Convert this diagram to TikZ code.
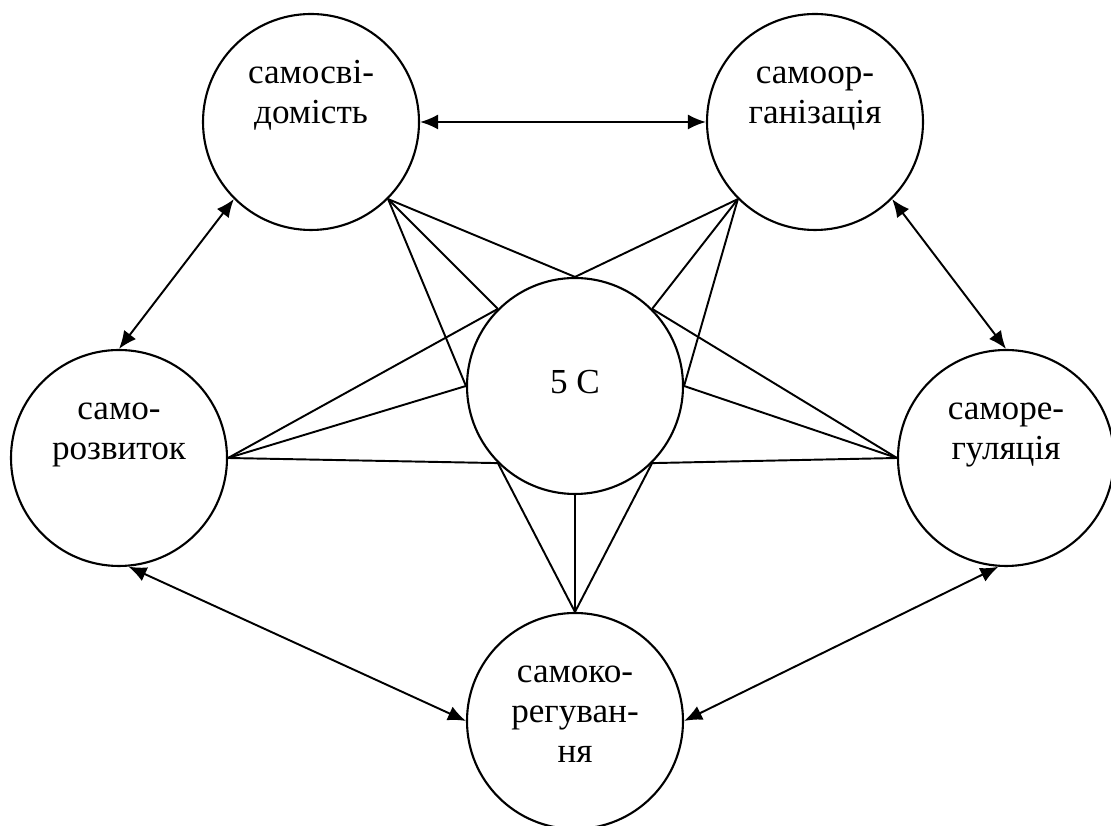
\documentclass[tikz,border=0pt]{standalone}
\usepackage{fontspec}
\setmainfont{Liberation Serif}
\usetikzlibrary{arrows.meta, calc}
\newcommand{\spokes}[3]
{
	\foreach \a in {#3}
		\draw[lnk] (#1.#2) -- (c.\a);
}
\begin{document}
\begin{tikzpicture}[every node/.append style={align = center, font=\fontsize{20}{22.9}\selectfont},
	ring/.style={shape=circle, draw, line width=1.2pt, minimum size=4.32cm, inner sep=0pt},
	txt/.style={anchor=north, inner sep=0pt},
	lnk/.style={line width=1.1pt},
	dbl/.style={line width=1.1pt, {Latex[length=0.36cm,width=0.3cm]}-{Latex[length=0.36cm,width=0.3cm]}}]
	\useasboundingbox (0,0) rectangle (22.22,16.52);
	% circles
	\node[ring] at (6.22, 14.08) (sv){};
	\node[ring] at (16.30, 14.08) (so){};
	\node[ring] at (2.38, 7.36) (sr){};
	\node[ring] at (20.12, 7.36) (sg){};
	\node[ring] at (11.50, 2.10) (sk){};
	\node[ring] at (11.50, 8.80) (c){};
	% texts
	\node[txt] at ($(sv)+(0,1.345)$) (svt){\strut самосві-\\домість};
	\node[txt] at ($(so)+(0,1.345)$) (sot){\strut самоор-\\ганізація};
	\node[txt] at ($(sr)+(0,1.345)$) (srt){\strut само-\\розвиток};
	\node[txt] at ($(sg)+(0,1.345)$) (sgt){\strut саморе-\\гуляція};
	\node[txt] at ($(sk)+(0,1.345)$) (skt){\strut самоко-\\регуван-\\ня};
	\node[inner sep=0pt] at ($(c)+(0,0.08)$) (ct){5 С};
	% links to the centre
	\spokes{sv}{-45}{90,135,180}
	\spokes{so}{-135}{90,45,0}
	\spokes{sr}{0}{135,180,225}
	\spokes{sg}{180}{45,0,-45}
	\spokes{sk}{90}{-135,-90,-45}
	% arrows round the ring
	\draw[dbl] (sv.0) -- (so.180);
	\draw[dbl] (sv.-135) -- (sr.90);
	\draw[dbl] (so.-45) -- (sg.90);
	\draw[dbl] (sr.-85) -- (sk.180);
	\draw[dbl] (sg.-94) -- (sk.0);
\end{tikzpicture}
\end{document}
